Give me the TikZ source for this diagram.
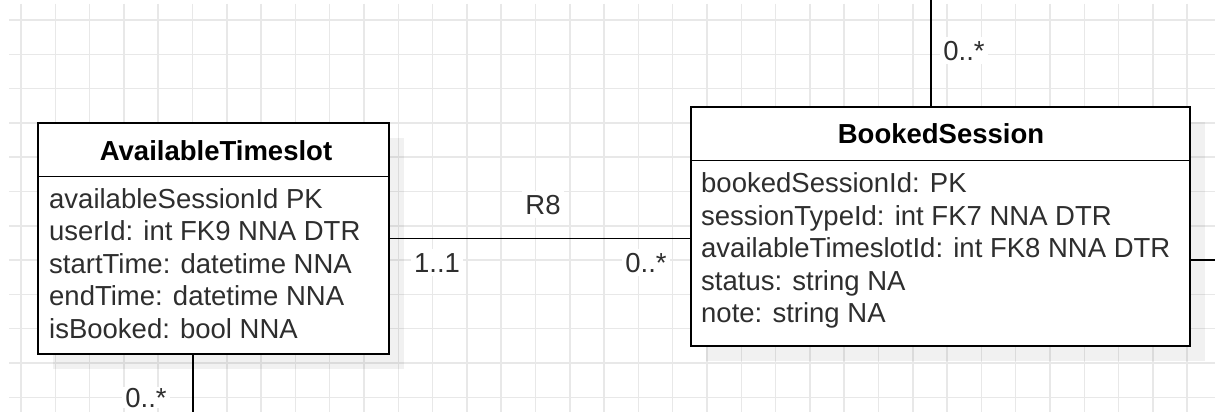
\documentclass[tikz,border=0pt]{standalone}
\usepackage{fontspec}
\setmainfont{Liberation Sans}
\definecolor{gridgray}{HTML}{E8E8E8}
\definecolor{textgray}{HTML}{2E2E2E}
\begin{document}
\begin{tikzpicture}[x=1pt,y=-1pt,
  gridline/.style={draw=gridgray,line width=1.5pt},
  entity/.style={draw=black,line width=1.5pt,fill=white,inner sep=0pt},
  shade/.style={fill=black,fill opacity=0.055,draw=none},
  attr/.style={anchor=base west,inner sep=0pt,text=textgray,font=\fontsize{27.5}{33}\selectfont},
  etitle/.style={anchor=base,inner sep=0pt,text=black,font=\bfseries\fontsize{27.5}{33}\selectfont},
  mult/.style={anchor=base,fill=white,inner xsep=3pt,inner ysep=4pt,text=textgray,font=\fontsize{27.5}{33}\selectfont},
  link/.style={draw=black,line width=1.5pt}]

\useasboundingbox (0,0) rectangle (1215,412);
\fill[white] (0,0) rectangle (1215,412);

% background grid
\foreach \i in {0,...,34}
  \draw[gridline] ({21+34.3*\i},4) -- ({21+34.3*\i},412);
\foreach \j in {0,...,11}
  \draw[gridline] (9,{20+34.3*\j}) -- (1215,{20+34.3*\j});

% soft drop shadows of the two entities
\fill[shade] (53,138) rectangle (404,369);
\fill[shade] (706,122) rectangle (1205,361);

% entity AvailableTimeslot
\node[entity,minimum width=351pt,minimum height=231pt] (avail) at (213.5,238.5) {};
\draw[link] ([yshift=-54pt]avail.north west) -- ([yshift=-54pt]avail.north east);
\node[etitle] (availTitle) at (216,160) {AvailableTimeslot};
\foreach \k/\txt in {0/availableSessionId PK,
                     1/userId: int FK9 NNA DTR,
                     2/startTime: datetime NNA,
                     3/endTime: datetime NNA,
                     4/isBooked: bool NNA}
  \node[attr] (availAttr\k) at (49,{208+32.5*\k}) {\txt};

% entity BookedSession
\node[entity,minimum width=499pt,minimum height=239pt] (booked) at (940.5,226.5) {};
\draw[link] ([yshift=-54pt]booked.north west) -- ([yshift=-54pt]booked.north east);
\node[etitle] (bookedTitle) at (941,143) {BookedSession};
\foreach \k/\txt in {0/bookedSessionId: PK,
                     1/sessionTypeId: int FK7 NNA DTR,
                     2/availableTimeslotId: int FK8 NNA DTR,
                     3/status: string NA,
                     4/note: string NA}
  \node[attr] (bookedAttr\k) at (701,{192.7+32.5*\k}) {\txt};

% relationships
\coordinate (topEnd) at (931,-2);
\coordinate (rightEnd) at (1217,260);
\coordinate (bottomEnd) at (193,414);
\draw[link] (avail.east) -- (avail.east -| booked.west);
\draw[link] (topEnd) -- (topEnd |- booked.north);
\draw[link] (rightEnd -| booked.east) -- (rightEnd);
\draw[link] (bottomEnd |- avail.south) -- (bottomEnd);

% relationship name and multiplicities
\node[mult] (relR8) at (543,214) {R8};
\node[mult] (multAvail) at (437,272) {1..1};
\node[mult] (multBooked) at (646,272) {0..*};
\node[mult] (multTop) at (964,60) {0..*};
\node[mult,inner ysep=1pt] (multBottom) at (146,407) {0..*};
\end{tikzpicture}
\end{document}
